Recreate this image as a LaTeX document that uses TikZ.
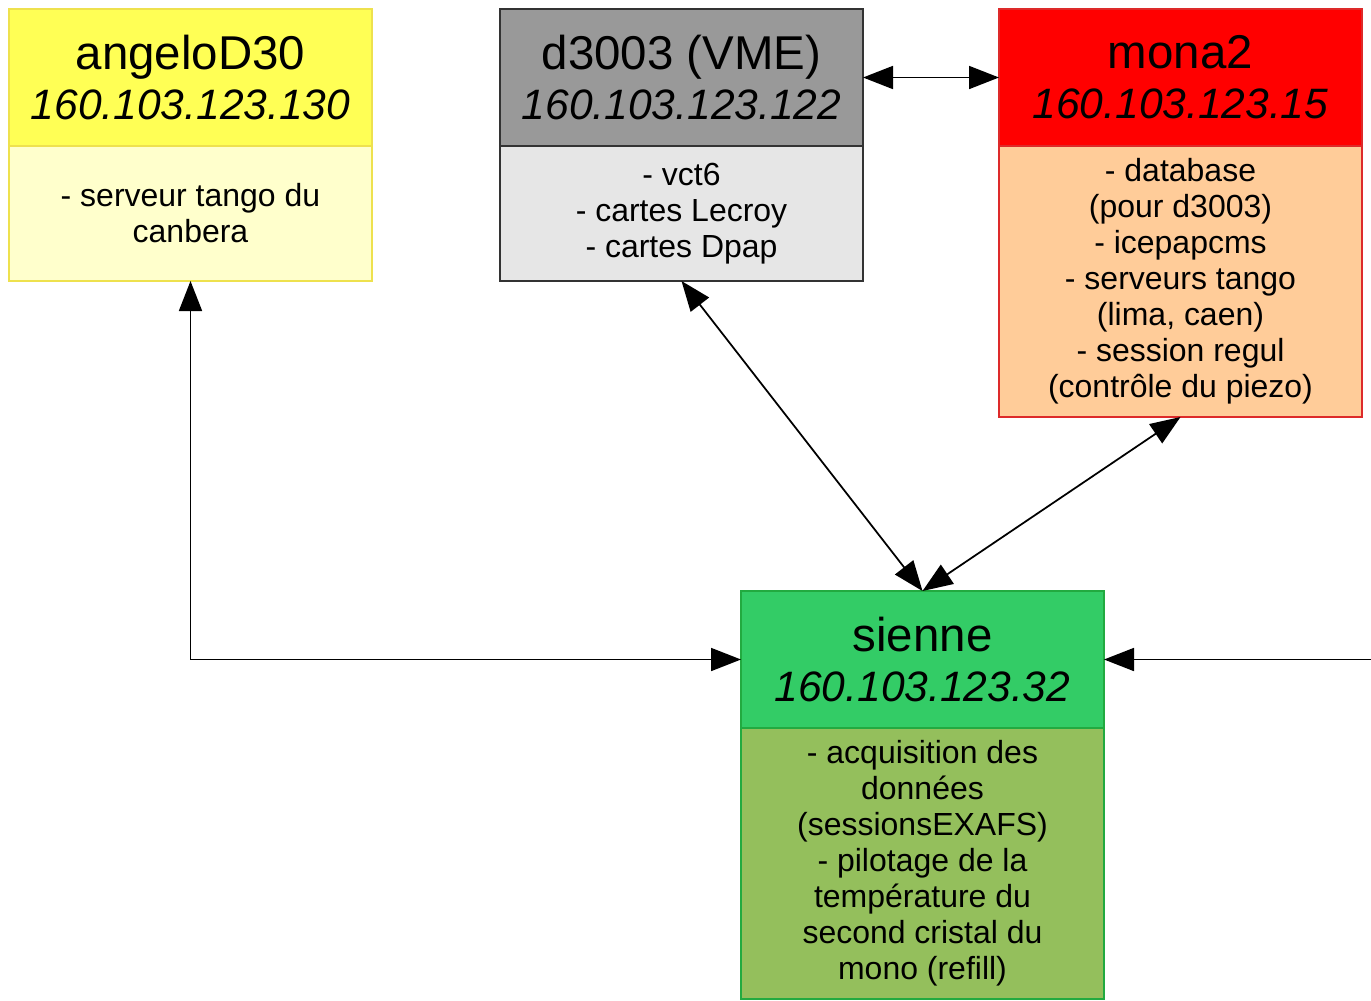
\documentclass[tikz,border=0pt]{standalone}
\usepackage{fontspec}
\setmainfont{Liberation Sans}
\usepackage{tikz}
\usetikzlibrary{arrows.meta,positioning}
\definecolor{hostyel}{HTML}{FFFF55}
\definecolor{hostyelbg}{HTML}{FFFFCC}
\definecolor{hostyelrule}{HTML}{EEE14E}
\definecolor{hostgray}{HTML}{999999}
\definecolor{hostgraybg}{HTML}{E6E6E6}
\definecolor{hostgrayrule}{HTML}{333333}
\definecolor{hostred}{HTML}{FF0000}
\definecolor{hostredbg}{HTML}{FFCC99}
\definecolor{hostredrule}{HTML}{DD2A2A}
\definecolor{hostgreen}{HTML}{33CC66}
\definecolor{hostgreenbg}{HTML}{94BF5C}
\definecolor{hostgreenrule}{HTML}{22AA40}
\tikzset{
  hosthead/.style={rectangle, line width=1.2pt, outer sep=0pt, inner sep=0pt,
                   minimum width=7.26cm, minimum height=2.74cm, align=center,
                   font=\fontsize{27}{28.5}\selectfont, text=black},
  hostbody/.style={rectangle, line width=1.2pt, outer sep=0pt, inner sep=0pt,
                   minimum width=7.26cm, align=center,
                   font=\fontsize{18.2}{20.5}\selectfont, text=black},
  hostlink/.style={{Triangle[length=0.6cm,width=0.46cm]}-{Triangle[length=0.6cm,width=0.46cm]},
                   line width=1pt, draw=black},
  hostin/.style  ={-{Triangle[length=0.6cm,width=0.46cm]}, line width=1pt, draw=black},
}
\newcommand{\ipaddr}[1]{{\fontsize{24.2}{28.5}\selectfont\itshape #1}}

\begin{document}
\begin{tikzpicture}
  \useasboundingbox (0,0) rectangle (27.42,-20);
  % machines
  \node[hosthead, fill=hostyel, draw=hostyelrule] (angeloH) at (3.81,-1.55)
    {angeloD30\\\ipaddr{160.103.123.130}};
  \node[hostbody, fill=hostyelbg, draw=hostyelrule, minimum height=2.7cm,
        below=0pt of angeloH] (angeloB) {- serveur tango du\\canbera};
  \node[hosthead, fill=hostgray, draw=hostgrayrule] (d3003H) at (13.63,-1.55)
    {d3003 (VME)\\\ipaddr{160.103.123.122}};
  \node[hostbody, fill=hostgraybg, draw=hostgrayrule, minimum height=2.7cm,
        below=0pt of d3003H] (d3003B) {- vct6\\- cartes Lecroy\\- cartes Dpap};
  \node[hosthead, fill=hostred, draw=hostredrule] (mona2H) at (23.61,-1.55)
    {mona2\\\ipaddr{160.103.123.15}};
  \node[hostbody, fill=hostredbg, draw=hostredrule, minimum height=5.42cm,
        below=0pt of mona2H] (mona2B)
    {- database\\(pour d3003)\\- icepapcms\\- serveurs tango\\(lima, caen)\\- session regul\\(contrôle du piezo)};
  \node[hosthead, fill=hostgreen, draw=hostgreenrule] (sienneH) at (18.45,-13.19)
    {sienne\\\ipaddr{160.103.123.32}};
  \node[hostbody, fill=hostgreenbg, draw=hostgreenrule, minimum height=5.42cm,
        below=0pt of sienneH] (sienneB)
    {- acquisition des\\données\\(sessionsEXAFS)\\- pilotage de la\\température du\\second cristal du\\mono (refill)};
  % links
  \coordinate (offpage) at (27.42,-13.19);
  \draw[hostlink] (angeloB.south) |- (sienneH.west);
  \draw[hostlink] (d3003H.east) -- (mona2H.west);
  \draw[hostlink] (d3003B.south) -- (sienneH.north);
  \draw[hostlink] (mona2B.south) -- (sienneH.north);
  \draw[hostin] (offpage) -- (sienneH.east);
\end{tikzpicture}
\end{document}
